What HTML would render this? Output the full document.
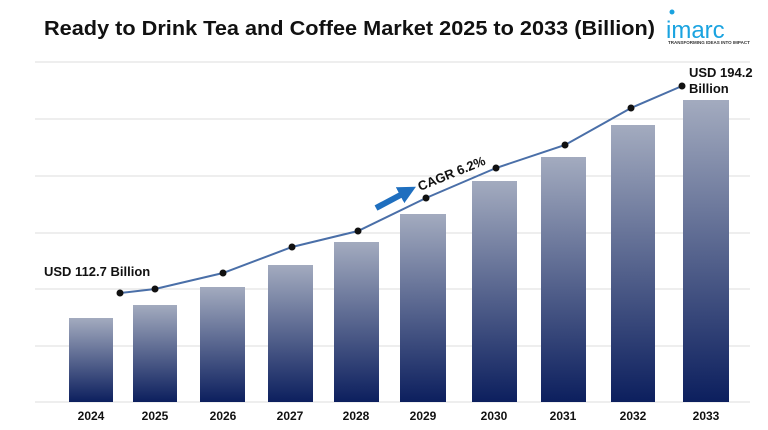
<!DOCTYPE html><html><head><style>body{margin:0;background:#fff}svg{display:block}text{font-family:"Liberation Sans",sans-serif;font-weight:bold}</style></head><body>
<svg width="768" height="430" viewBox="0 0 768 430">
<defs><linearGradient id="g" x1="0" y1="0" x2="0" y2="1"><stop offset="0" stop-color="#a3abbf"/><stop offset="1" stop-color="#0c1f5e"/></linearGradient>
<marker id="ah" markerWidth="3" markerHeight="3" refX="1.5" refY="1.5" orient="auto"><path d="M0,0L3,1.5L0,3z" fill="#1f6fbf"/></marker></defs>
<text x="44" y="35" font-size="20" fill="#111" textLength="611" lengthAdjust="spacingAndGlyphs">Ready to Drink Tea and Coffee Market 2025 to 2033 (Billion)</text>
<circle cx="672" cy="12" r="2.5" fill="#1aa3e0"/>
<text x="666" y="38" font-size="24" fill="#1aa3e0" style="font-weight:normal">imarc</text>
<text x="668" y="44" font-size="4.5" fill="#333">TRANSFORMING IDEAS INTO IMPACT</text>
<g stroke="#ddd" stroke-width="1"><line x1="35" y1="62" x2="750" y2="62"/><line x1="35" y1="119" x2="750" y2="119"/><line x1="35" y1="176" x2="750" y2="176"/><line x1="35" y1="233" x2="750" y2="233"/><line x1="35" y1="289" x2="750" y2="289"/><line x1="35" y1="346" x2="750" y2="346"/><line x1="35" y1="402" x2="750" y2="402"/></g>
<g fill="url(#g)">
<rect x="69" y="318" width="44" height="84"/><rect x="133" y="305" width="44" height="97"/><rect x="200" y="287" width="45" height="115"/><rect x="268" y="265" width="45" height="137"/><rect x="334" y="242" width="45" height="160"/><rect x="400" y="214" width="46" height="188"/><rect x="472" y="181" width="45" height="221"/><rect x="541" y="157" width="45" height="245"/><rect x="611" y="125" width="44" height="277"/><rect x="683" y="100" width="46" height="302"/></g>
<polyline points="120,293 155,289 223,273 292,247 358,231 426,198 496,168 565,145 631,108 682,86" fill="none" stroke="#4a6fa8" stroke-width="2"/>
<g fill="#111"><circle cx="120" cy="293" r="3.5"/><circle cx="155" cy="289" r="3.5"/><circle cx="223" cy="273" r="3.5"/><circle cx="292" cy="247" r="3.5"/><circle cx="358" cy="231" r="3.5"/><circle cx="426" cy="198" r="3.5"/><circle cx="496" cy="168" r="3.5"/><circle cx="565" cy="145" r="3.5"/><circle cx="631" cy="108" r="3.5"/><circle cx="682" cy="86" r="3.5"/></g>
<line x1="376" y1="208" x2="408" y2="191" stroke="#1f6fbf" stroke-width="6" marker-end="url(#ah)"/>
<text x="420" y="191" font-size="13" fill="#111" transform="rotate(-22 420 191)">CAGR 6.2%</text>
<text x="44" y="276" font-size="13" fill="#111">USD 112.7 Billion</text>
<text x="689" y="77" font-size="13" fill="#111">USD 194.2</text>
<text x="689" y="93" font-size="13" fill="#111">Billion</text>
<g font-size="12" fill="#111" text-anchor="middle"><text x="91" y="420">2024</text><text x="155" y="420">2025</text><text x="223" y="420">2026</text><text x="290" y="420">2027</text><text x="356" y="420">2028</text><text x="423" y="420">2029</text><text x="494" y="420">2030</text><text x="563" y="420">2031</text><text x="633" y="420">2032</text><text x="706" y="420">2033</text></g>
</svg></body></html>
